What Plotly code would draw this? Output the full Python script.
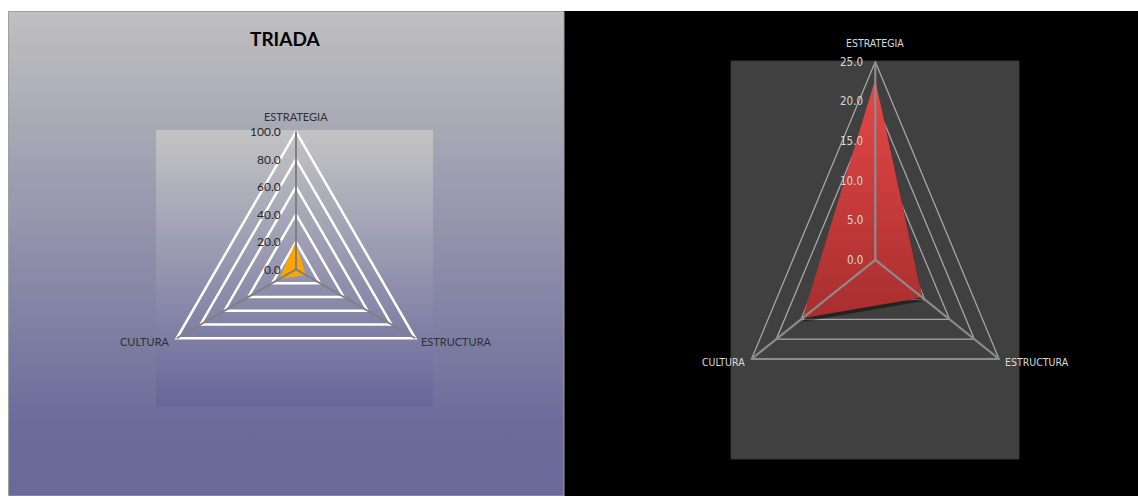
import numpy as np
import plotly.graph_objects as go

W, H = 1138, 496

# ---- data -------------------------------------------------------------
categories = ["ESTRATEGIA", "ESTRUCTURA", "CULTURA"]
left_values = [20.5, 8.0, 14.0]
left_ticks = [0, 20, 40, 60, 80, 100]
right_values = [22.8, 9.5, 14.7]
right_ticks = [0, 5, 10, 15, 20, 25]
title_text = "TRIADA"

# spoke directions (clockwise from the top, like a spreadsheet radar)
angles = np.deg2rad([90, -30, 210])


def fx(p):
    return p / W


def fy(p):
    return 1 - p / H


def ring(level):
    xs = level * np.cos(angles)
    ys = level * np.sin(angles)
    return np.append(xs, xs[0]), np.append(ys, ys[0])


def polygon(values):
    v = np.asarray(values, dtype=float)
    xs = v * np.cos(angles)
    ys = v * np.sin(angles)
    return np.append(xs, xs[0]), np.append(ys, ys[0])


fig = go.Figure()

# ---- left panel geometry ----
L_area = (156, 130, 433, 407)        # plot area in pixels (x0, y0, x1, y1)
L_cx, L_cy, L_R = 296.0, 269.4, 137.7
L_max = left_ticks[-1]
L_s = L_R / L_max                    # pixels per unit
L_xr = [(L_area[0] - L_cx) / L_s, (L_area[2] - L_cx) / L_s]
L_yr = [(L_cy - L_area[3]) / L_s, (L_cy - L_area[1]) / L_s]

# ---- right panel geometry ----
R_area = (731, 61, 1019, 459)
R_cx, R_cy = 875.3, 259.9
R_rx, R_ry = 142.9, 198.2            # horizontal / vertical radius in pixels
R_max = right_ticks[-1]
R_sx, R_sy = R_rx / R_max, R_ry / R_max
R_xr = [(R_area[0] - R_cx) / R_sx, (R_area[2] - R_cx) / R_sx]
R_yr = [(R_cy - R_area[3]) / R_sy, (R_cy - R_area[1]) / R_sy]

skip = dict(hoverinfo="skip", showlegend=False)

# left panel gradient background
fig.add_trace(go.Scatter(
    x=[0, 1, 1, 0, 0], y=[0, 0, 1, 1, 0], mode="lines", fill="toself",
    line=dict(width=0),
    fillgradient=dict(type="vertical",
                      colorscale=[[0, "#6a6a9a"], [0.15, "#6c6c9b"], [1, "#c0c0c0"]]),
    xaxis="x", yaxis="y", **skip))

# left plot area gradient
fig.add_trace(go.Scatter(
    x=[L_xr[0], L_xr[1], L_xr[1], L_xr[0], L_xr[0]],
    y=[L_yr[0], L_yr[0], L_yr[1], L_yr[1], L_yr[0]],
    mode="lines", fill="toself", line=dict(width=0),
    fillgradient=dict(type="vertical",
                      colorscale=[[0, "#66669a"], [1, "#c4c4c4"]]),
    xaxis="x2", yaxis="y2", **skip))

# left grid rings
for lv in left_ticks[1:]:
    gx, gy = ring(lv)
    fig.add_trace(go.Scatter(x=gx, y=gy, mode="lines",
                             line=dict(color="#ffffff", width=2.5),
                             xaxis="x2", yaxis="y2", **skip))

# left series
px_, py_ = polygon(left_values)
fig.add_trace(go.Scatter(x=px_, y=py_, mode="lines", fill="toself",
                         fillcolor="#ffa500", line=dict(width=0),
                         xaxis="x2", yaxis="y2", **skip))

# left spokes
for a in angles:
    fig.add_trace(go.Scatter(x=[0, L_max * np.cos(a)], y=[0, L_max * np.sin(a)],
                             mode="lines", line=dict(color="#808080", width=2),
                             xaxis="x2", yaxis="y2", **skip))

# right grid rings
for lv in right_ticks[1:]:
    gx, gy = ring(lv)
    fig.add_trace(go.Scatter(x=gx, y=gy, mode="lines",
                             line=dict(color="#a6a6a6", width=1.3),
                             xaxis="x3", yaxis="y3", **skip))

# right series with a soft drop shadow
rx_, ry_ = polygon(right_values)
fig.add_trace(go.Scatter(x=rx_ + 1 / R_sx, y=ry_ - 3.5 / R_sy, mode="lines",
                         fill="toself", fillcolor="rgba(0,0,0,0.45)",
                         line=dict(width=0), xaxis="x3", yaxis="y3", **skip))
fig.add_trace(go.Scatter(x=rx_, y=ry_, mode="lines", fill="toself",
                         line=dict(width=0),
                         fillgradient=dict(type="vertical",
                                           colorscale=[[0, "#a82e2e"], [1, "#e54848"]]),
                         xaxis="x3", yaxis="y3", **skip))

# right spokes
for a in angles:
    fig.add_trace(go.Scatter(x=[0, R_max * np.cos(a)], y=[0, R_max * np.sin(a)],
                             mode="lines", line=dict(color="#8c8c8c", width=2.2),
                             xaxis="x3", yaxis="y3", **skip))

ax_off = dict(visible=False, showgrid=False, zeroline=False, fixedrange=True)

fig.update_layout(
    width=W, height=H,
    margin=dict(l=0, r=0, t=0, b=0),
    paper_bgcolor="#ffffff", plot_bgcolor="rgba(0,0,0,0)",
    xaxis=dict(domain=[fx(8), fx(564)], range=[0, 1], anchor="y", **ax_off),
    yaxis=dict(domain=[fy(496), fy(11)], range=[0, 1], anchor="x", **ax_off),
    xaxis2=dict(domain=[fx(L_area[0]), fx(L_area[2])], range=L_xr, anchor="y2", **ax_off),
    yaxis2=dict(domain=[fy(L_area[3]), fy(L_area[1])], range=L_yr, anchor="x2", **ax_off),
    xaxis3=dict(domain=[fx(R_area[0]), fx(R_area[2])], range=R_xr, anchor="y3", **ax_off),
    yaxis3=dict(domain=[fy(R_area[3]), fy(R_area[1])], range=R_yr, anchor="x3", **ax_off),
    shapes=[
        dict(type="rect", xref="paper", yref="paper", layer="below",
             x0=fx(564), x1=1, y0=0, y1=fy(11),
             fillcolor="#000000", line=dict(width=0)),
        dict(type="rect", xref="paper", yref="paper", layer="below",
             x0=fx(R_area[0]), x1=fx(R_area[2]), y0=fy(R_area[3]), y1=fy(R_area[1]),
             fillcolor="#404040", line=dict(color="#383838", width=1)),
        dict(type="rect", xref="paper", yref="paper", layer="above",
             x0=fx(8.5), x1=fx(564), y0=0, y1=fy(11.5),
             fillcolor="rgba(0,0,0,0)", line=dict(color="#a0a0a0", width=1)),
    ],
)

ann = []
left_font = dict(family="Lato, 'Open Sans', sans-serif", size=12, color="#262626")
right_font = dict(family="'Liberation Sans Narrow', 'DejaVu Sans Condensed', Roboto, sans-serif",
                  size=11.5, color="#d9d9d9")

# title
ann.append(dict(text=f"<b>{title_text}</b>", x=fx(285), y=fy(38), xref="paper", yref="paper",
                xanchor="center", yanchor="middle", showarrow=False,
                font=dict(family="Lato, 'Open Sans', sans-serif", size=19, color="#000000")))

# radial tick labels
for lv in left_ticks:
    ann.append(dict(text=f"{lv:.1f}", x=0, y=lv, xref="x2", yref="y2",
                    xanchor="right", yanchor="middle", xshift=-13, showarrow=False,
                    font=left_font))
for lv in right_ticks:
    ann.append(dict(text=f"{lv:.1f}", x=0, y=lv, xref="x3", yref="y3",
                    xanchor="right", yanchor="middle", xshift=-10, showarrow=False,
                    font=right_font))

# category labels
place = {
    "ESTRATEGIA": dict(xanchor="center", xshift=0, yshift=15.5),
    "ESTRUCTURA": dict(xanchor="left", xshift=4, yshift=-3),
    "CULTURA": dict(xanchor="right", xshift=-5, yshift=-3),
}
place_r = {
    "ESTRATEGIA": dict(xanchor="center", xshift=0, yshift=19),
    "ESTRUCTURA": dict(xanchor="left", xshift=4, yshift=-3.3),
    "CULTURA": dict(xanchor="right", xshift=-5, yshift=-3.3),
}
for cat, a in zip(categories, angles):
    ann.append(dict(text=cat, x=L_max * np.cos(a), y=L_max * np.sin(a),
                    xref="x2", yref="y2", yanchor="middle", showarrow=False,
                    font=dict(left_font, size=11, color="#303030"), **place[cat]))
    ann.append(dict(text=cat, x=R_max * np.cos(a), y=R_max * np.sin(a),
                    xref="x3", yref="y3", yanchor="middle", showarrow=False,
                    font=dict(right_font, size=10.5), **place_r[cat]))

fig.update_layout(annotations=ann)

fig.write_html("out.html")
